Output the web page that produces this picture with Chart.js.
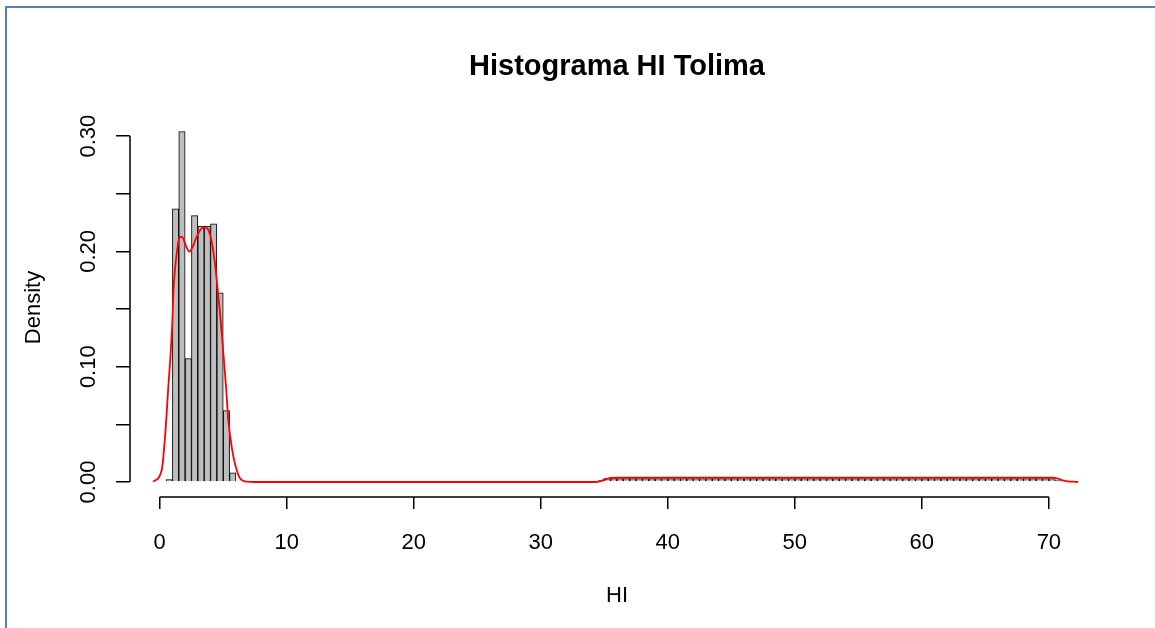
<!DOCTYPE html>
<html>
<head>
<meta charset="utf-8">
<script src="https://cdn.jsdelivr.net/npm/chart.js@4.4.0/dist/chart.umd.min.js"></script>
<style>
  html, body { margin: 0; padding: 0; background: #fff; }
  #wrap { position: relative; width: 1155px; height: 628px; overflow: hidden; }
  #frame { position: absolute; left: 5px; top: 6px; right: -10px; bottom: -10px;
           border-top: 2px solid #4f81bd; border-left: 2px solid #4f81bd; pointer-events: none; }
  canvas { position: absolute; left: 0; top: 0; }
</style>
</head>
<body>
<div id="wrap">
  <canvas id="histChart" width="1155" height="628"></canvas>
  <div id="frame"></div>
</div>
<script>
// histogram bins (width 0.5), density values
const binWidth = 0.5;
const lowStart = 0.5;
const lowDensity = [0.002, 0.237, 0.304, 0.107, 0.231, 0.222, 0.222, 0.224, 0.164, 0.062, 0.008];
const highStart = 34.5;
const highDensity = [
  0.0012,
  0.0030, 0.0030, 0.0030, 0.0030, 0.0030, 0.0030, 0.0030, 0.0030, 0.0030, 0.0030,
  0.0030, 0.0030, 0.0030, 0.0030, 0.0030, 0.0030, 0.0030, 0.0030, 0.0030, 0.0030,
  0.0030, 0.0030, 0.0030, 0.0030, 0.0030, 0.0030, 0.0030, 0.0030, 0.0030, 0.0030,
  0.0030, 0.0030, 0.0030, 0.0030, 0.0030, 0.0030, 0.0030, 0.0030, 0.0030, 0.0030,
  0.0030, 0.0030, 0.0030, 0.0030, 0.0030, 0.0030, 0.0030, 0.0030, 0.0030, 0.0030,
  0.0030, 0.0030, 0.0030, 0.0030, 0.0030, 0.0030, 0.0030, 0.0030, 0.0030, 0.0030,
  0.0030, 0.0030, 0.0030, 0.0030, 0.0030, 0.0030, 0.0030, 0.0030, 0.0030, 0.0030,
  0.0030,
  0.0012
];

// kernel density curve (red line)
const kdeX = [-0.52, 0.16, 0.42, 0.68, 0.86, 1.0, 1.07, 1.2, 1.34, 1.47, 1.6, 1.81, 1.99, 2.33,
  2.6, 2.91, 3.3, 3.57, 3.83, 4.09, 4.35, 4.54, 4.75, 5.01, 5.22, 5.4, 5.59, 5.8, 6.06, 6.32,
  6.85, 7.5, 34.3, 34.7, 35.1, 35.5, 36.0, 70.3, 70.7, 71.1, 71.5, 71.9, 72.3];
const kdeY = [0.0003, 0.0104, 0.0393, 0.0827, 0.1116, 0.1405, 0.1636, 0.1839, 0.1983, 0.2084,
  0.2128, 0.2122, 0.207, 0.1998, 0.2041, 0.2128, 0.22, 0.2209, 0.2186, 0.2084, 0.1897, 0.1694,
  0.1463, 0.1116, 0.0827, 0.0538, 0.0364, 0.022, 0.0104, 0.0032, 0.0003, 0, 0, 0.0008, 0.0025,
  0.0036, 0.0038, 0.0038, 0.003, 0.0014, 0.0006, 0.0003, 0];

const xTicks = [0, 10, 20, 30, 40, 50, 60, 70];
const yTicks = [0, 0.05, 0.10, 0.15, 0.20, 0.25, 0.30];
const yTickLabels = ['0.00', '', '0.10', '', '0.20', '', '0.30'];

const fontFamily = '"Liberation Sans", Arial, Helvetica, sans-serif';

const barData = lowDensity.map((d, i) => ({ x: lowStart + (i + 0.5) * binWidth, y: d }))
  .concat(highDensity.map((d, i) => ({ x: highStart + (i + 0.5) * binWidth, y: d })));
const kdeData = kdeX.map((x, i) => ({ x: x, y: kdeY[i] }));

// R style axis lines: only from first to last tick
const rAxes = {
  id: 'rAxes',
  afterDraw(chart) {
    const { ctx, chartArea, scales: { x, y } } = chart;
    ctx.save();
    ctx.strokeStyle = '#000';
    ctx.lineWidth = 1.5;
    ctx.beginPath();
    ctx.moveTo(x.getPixelForValue(xTicks[0]), chartArea.bottom);
    ctx.lineTo(x.getPixelForValue(xTicks[xTicks.length - 1]), chartArea.bottom);
    ctx.moveTo(chartArea.left, y.getPixelForValue(yTicks[0]));
    ctx.lineTo(chartArea.left, y.getPixelForValue(yTicks[yTicks.length - 1]));
    ctx.stroke();
    ctx.restore();
  }
};

const ctx = document.getElementById('histChart');

const chart = new Chart(ctx, {
  type: 'bar',
  data: {
    datasets: [{
      type: 'line',
      data: kdeData,
      borderColor: '#ff0000',
      borderWidth: 1.8,
      pointRadius: 0,
      cubicInterpolationMode: 'monotone',
      order: 0
    }, {
      type: 'bar',
      data: barData,
      backgroundColor: '#bebebe',
      borderColor: '#000',
      borderWidth: 1,
      barPercentage: 1,
      categoryPercentage: 1,
      order: 1
    }]
  },
  options: {
    responsive: false,
    animation: false,
    layout: { padding: { top: 0, right: 51, bottom: 0, left: 0 } },
    plugins: {
      legend: { display: false },
      tooltip: { enabled: false },
      title: {
        display: true,
        text: 'Histograma HI Tolima',
        fullSize: false,
        color: '#000',
        font: { family: fontFamily, size: 29, weight: 'bold' },
        padding: { top: 50, bottom: 33.2 }
      }
    },
    scales: {
      x: {
        type: 'linear',
        min: -2.34,
        max: 74.34,
        offset: false,
        border: { display: false },
        grid: { drawOnChartArea: false, offset: false, tickLength: 12, color: '#000', lineWidth: 1.5 },
        ticks: {
          autoSkip: false,
          maxRotation: 0,
          padding: 21,
          color: '#000',
          font: { family: fontFamily, size: 22 },
          callback: (v) => String(v)
        },
        afterBuildTicks: (s) => { s.ticks = xTicks.map(v => ({ value: v })); },
        afterFit: (s) => { s.height = 131; },
        title: {
          display: true,
          text: 'HI',
          color: '#000',
          font: { family: fontFamily, size: 22 },
          padding: { top: 0, bottom: 19 }
        }
      },
      y: {
        type: 'linear',
        min: -0.013,
        max: 0.3157,
        border: { display: false },
        grid: { drawOnChartArea: false, tickLength: 14, color: '#000', lineWidth: 1.5 },
        ticks: {
          autoSkip: false,
          minRotation: 90,
          maxRotation: 90,
          crossAlign: 'center',
          padding: 6,
          color: '#000',
          font: { family: fontFamily, size: 22 },
          callback: (v, i) => yTickLabels[i]
        },
        afterBuildTicks: (s) => { s.ticks = yTicks.map(v => ({ value: v })); },
        afterFit: (s) => { s.width = 130; },
        title: {
          display: true,
          text: 'Density',
          color: '#000',
          font: { family: fontFamily, size: 22 },
          padding: { top: 21, bottom: 0 }
        }
      }
    }
  },
  plugins: [rAxes]
});
</script>
</body>
</html>
